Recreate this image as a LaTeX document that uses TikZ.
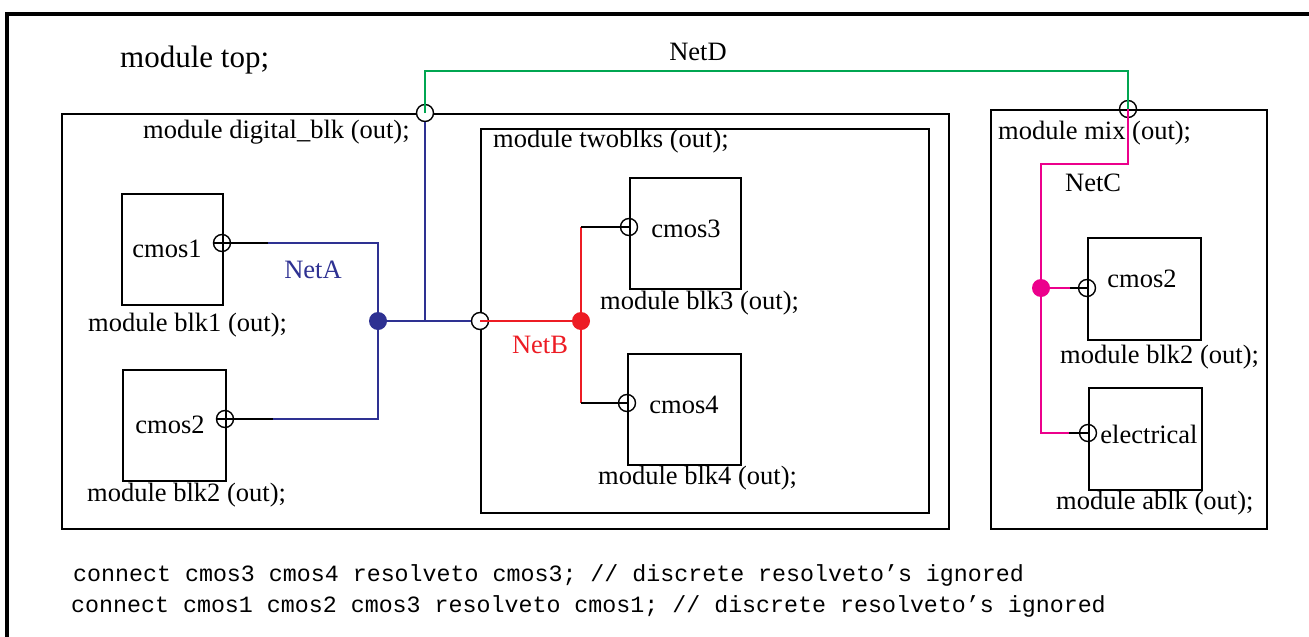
\documentclass[tikz,border=0pt]{standalone}
\usepackage{fontspec}
\setmainfont{Liberation Serif}
\setmonofont{Liberation Mono}
\definecolor{netblue}{RGB}{46,49,146}
\definecolor{netred}{RGB}{237,28,36}
\definecolor{netpink}{RGB}{236,0,140}
\definecolor{netgreen}{RGB}{0,166,81}
\tikzset{
  modbox/.style={draw, line width=1.6pt, anchor=north west, inner sep=0,
    font=\fontsize{26.5}{30}\selectfont},
  lbl/.style={anchor=west, inner sep=0, font=\fontsize{26.5}{30}\selectfont},
  port/.style={circle, draw, line width=1.4pt, minimum size=17, inner sep=0},
  dot/.style={circle, fill, minimum size=18, inner sep=0},
  wire/.style={line width=1.6pt},
}
\begin{document}
\begin{tikzpicture}[x=1pt, y=-1pt]
    \useasboundingbox (0,0) rectangle (1309,637);
    \fill[white] (0,0) rectangle (1309,637);
    \draw[line width=3.2pt] (7,700) |- (1400,14);

    \node[lbl, font=\fontsize{31}{36}\selectfont] (top) at (120,60) {module top;};

    % modules
    \node[modbox, minimum width=887, minimum height=415] (digital) at (61,113) {};
    \node[modbox, minimum width=448, minimum height=384] (twoblks) at (480,128) {};
    \node[modbox, minimum width=276, minimum height=419] (mix) at (990,109) {};

    \node[modbox, minimum width=101, minimum height=111] (cmos1) at (121,193) {};
    \node[modbox, minimum width=103, minimum height=111] (cmos2) at (122,369) {};
    \node[modbox, minimum width=111, minimum height=111] (cmos3) at (629,177) {};
    \node[modbox, minimum width=113, minimum height=111] (cmos4) at (627,353) {};
    \node[modbox, minimum width=113, minimum height=102] (mcmos2) at (1087,237) {};
    \node[modbox, minimum width=113, minimum height=102] (elec) at (1088,387) {};

    \node[lbl, anchor=center] (tcmos1) at (167,249) {cmos1};
    \node[lbl, anchor=center] (tcmos2) at (170,425) {cmos2};
    \node[lbl, anchor=center] (tcmos3) at (686,229) {cmos3};
    \node[lbl, anchor=center] (tcmos4) at (684,405) {cmos4};
    \node[lbl, anchor=center] (tmcmos2) at (1142,279) {cmos2};
    \node[lbl, anchor=center] (telec) at (1149,434) {electrical};

    \node[lbl] (ldig) at (143,132) {module digital\_blk (out);};
    \node[lbl] (ltwo) at (493,141) {module twoblks (out);};
    \node[lbl] (lmix) at (998,133) {module mix (out);};
    \node[lbl] (lblk1) at (88,325) {module blk1 (out);};
    \node[lbl] (lblk2) at (87,495) {module blk2 (out);};
    \node[lbl] (lblk3) at (600,303) {module blk3 (out);};
    \node[lbl] (lblk4) at (598,478) {module blk4 (out);};
    \node[lbl] (lmblk2) at (1060,357) {module blk2 (out);};
    \node[lbl] (lablk) at (1056,503) {module ablk (out);};

    % ports
    \node[port] (p1) at (222,243) {};
    \node[port] (p2) at (225,419) {};
    \node[port] (p3) at (629,227) {};
    \node[port] (p4) at (627,403) {};
    \node[port] (pc2) at (1087,288) {};
    \node[port] (pe) at (1088,433) {};
    \node[port, fill=white] (pD) at (425,113) {};
    \node[port, fill=white] (pB) at (480,321) {};
    \node[port] (pM) at (1128,109) {};

    % junctions
    \node[dot, netblue] (jA) at (378,321) {};
    \node[dot, netred] (jB) at (581,321) {};
    \node[dot, netpink] (jC) at (1041,288) {};

    \coordinate (a1) at (268,243);
    \coordinate (a2) at (273,419);
    \coordinate (b1) at (581,227);
    \coordinate (b2) at (581,403);
    \coordinate (c1) at (1041,164);
    \coordinate (c2) at (1069,433);
    \coordinate (c3) at (1070,288);
    \coordinate (d1) at (425,71);

    % NetA
    \draw[wire] (p1.west) -- (a1);
    \draw[wire] (p2.west) -- (a2);
    \draw[wire, netblue] (a1) -| (jA.center) |- (a2);
    \draw[wire, netblue] (jA) -- (pB);
    \draw[wire, netblue] (pD) -- (pD |- jA);
    \node[lbl, anchor=center, netblue] (netA) at (313,270) {NetA};

    % NetB
    \draw[wire, netred] (pB.center) -- (jB);
    \draw[wire, netred] (b1) -- (b2);
    \draw[wire] (b1) -- (p3.center);
    \draw[wire] (b2) -- (p4.center);
    \node[lbl, anchor=center, netred] (netB) at (540,345) {NetB};

    % NetC
    \draw[wire, netpink] (pM.center) |- (c1) |- (c2);
    \draw[wire, netpink] (jC) -- (c3);
    \draw[wire] (c3) -- (pc2.center);
    \draw[wire] (c2) -- (pe.center);
    \node[lbl] (netC) at (1065,183) {NetC};

    % NetD
    \draw[wire, netgreen] (pD.center) -- (d1) -| (pM.center);
    \node[lbl, anchor=center] (netD) at (698,52) {NetD};

    \node[lbl, font=\fontsize{23.3}{26}\ttfamily] (con1) at (73,575)
        {connect cmos3 cmos4 resolveto cmos3; // discrete resolveto’s ignored};
    \node[lbl, font=\fontsize{23.3}{26}\ttfamily] (con2) at (71,606)
        {connect cmos1 cmos2 cmos3 resolveto cmos1; // discrete resolveto’s ignored};
\end{tikzpicture}
\end{document}
